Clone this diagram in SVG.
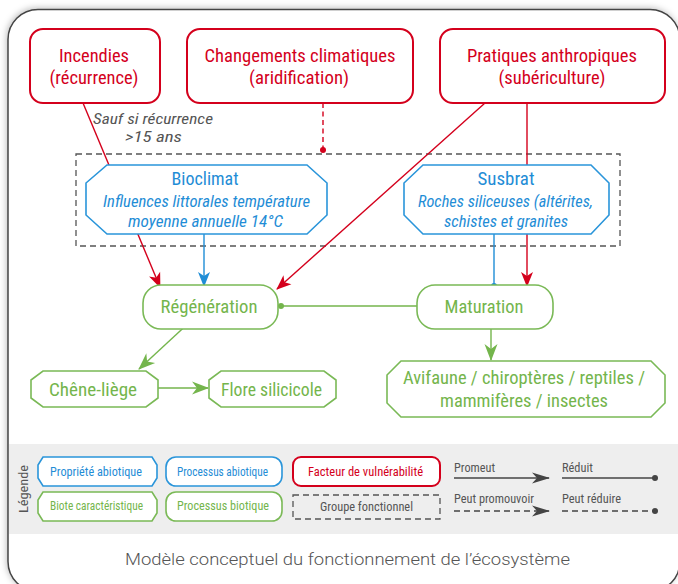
<svg xmlns="http://www.w3.org/2000/svg" width="678" height="584" viewBox="0 0 678 584">
<style>
.t{font-family:"Liberation Sans Narrow","Roboto Condensed","Arial Narrow",Roboto,sans-serif;text-anchor:middle}
.red{fill:#d4001c}.blue{fill:#1f8dd6}.green{fill:#74b54c}.grey{fill:#555}
.big{font-size:19px}.mid{font-size:16px;font-style:italic}.sm{font-size:13px}
.note{font-size:15px;font-style:italic}
.fac{fill:#fff;stroke:#d4001c;stroke-width:2}
.abio{fill:#fff;stroke:#2a95da;stroke-width:1.6}
.bio{fill:#fff;stroke:#7ab956;stroke-width:1.6}
.ln{fill:none;stroke-width:1.4}
</style>
<defs>
<filter id="sh" x="-5%" y="-5%" width="110%" height="110%"><feDropShadow dx="-1" dy="-1" stdDeviation="3" flood-color="#000" flood-opacity="0.25"/></filter>
<marker id="ar" markerUnits="userSpaceOnUse" markerWidth="20" markerHeight="20" refX="0" refY="0" orient="auto" overflow="visible"><path d="M1,0 L-14,-6 L-10,0 L-14,6 Z" fill="#d4001c"/></marker>
<marker id="ab" markerUnits="userSpaceOnUse" markerWidth="20" markerHeight="20" refX="0" refY="0" orient="auto" overflow="visible"><path d="M1,0 L-14,-6 L-10,0 L-14,6 Z" fill="#1f8dd6"/></marker>
<marker id="ag" markerUnits="userSpaceOnUse" markerWidth="20" markerHeight="20" refX="0" refY="0" orient="auto" overflow="visible"><path d="M1,0 L-16,-6.5 L-11,0 L-16,6.5 Z" fill="#74b54c"/></marker>
<marker id="ak" markerUnits="userSpaceOnUse" markerWidth="20" markerHeight="20" refX="0" refY="0" orient="auto" overflow="visible"><path d="M1,0 L-17,-5.5 L-12,0 L-17,5.5 Z" fill="#444"/></marker>
<marker id="dr" markerUnits="userSpaceOnUse" markerWidth="8" markerHeight="8" refX="0" refY="0" overflow="visible"><circle r="3" fill="#d4001c"/></marker>
<marker id="db" markerUnits="userSpaceOnUse" markerWidth="8" markerHeight="8" refX="0" refY="0" overflow="visible"><circle r="3" fill="#1f8dd6"/></marker>
<marker id="dg" markerUnits="userSpaceOnUse" markerWidth="8" markerHeight="8" refX="0" refY="0" overflow="visible"><circle r="3" fill="#74b54c"/></marker>
<marker id="dk" markerUnits="userSpaceOnUse" markerWidth="8" markerHeight="8" refX="0" refY="0" overflow="visible"><circle r="3" fill="#444"/></marker>
</defs>
<rect width="678" height="584" fill="#fff"/>
<rect x="8" y="9.5" width="672" height="582" rx="30" fill="#fff" stroke="#444" stroke-width="1.5" filter="url(#sh)"/>
<rect x="9" y="444" width="669" height="90" fill="#eeeeee"/>

<g id="group-fonctionnel">
<rect x="76" y="154" width="544" height="92" fill="none" stroke="#555" stroke-width="1.3" stroke-dasharray="6,4"/>
</g>

<g id="connectors">
<line class="ln" x1="83" y1="103" x2="160" y2="287" stroke="#d4001c" marker-end="url(#ar)"/>
<line class="ln" x1="485" y1="103" x2="277" y2="289" stroke="#d4001c" marker-end="url(#ar)"/>
<line class="ln" x1="527" y1="103" x2="527" y2="286" stroke="#d4001c" marker-end="url(#ar)"/>
<line class="ln" x1="323" y1="103" x2="323" y2="150" stroke="#d4001c" stroke-dasharray="5,3.5" marker-end="url(#dr)"/>
<line class="ln" x1="204" y1="234" x2="204" y2="286" stroke="#1f8dd6" marker-end="url(#ab)"/>
<line class="ln" x1="494" y1="234" x2="494" y2="286" stroke="#1f8dd6" marker-end="url(#db)"/>
<line class="ln" x1="417" y1="306" x2="281" y2="306" stroke="#74b54c" marker-end="url(#dg)"/>
<line class="ln" x1="193" y1="319" x2="139" y2="369" stroke="#74b54c" marker-end="url(#ag)"/>
<line class="ln" x1="158" y1="388" x2="208" y2="388" stroke="#74b54c" marker-end="url(#ag)"/>
<line class="ln" x1="491" y1="329" x2="491" y2="360" stroke="#74b54c" marker-end="url(#ag)"/>
</g>

<g id="incendies">
<rect class="fac" x="30" y="29" width="130" height="74" rx="13"/>
<text class="t big red" x="94" y="62" textLength="70" lengthAdjust="spacingAndGlyphs">Incendies</text>
<text class="t big red" x="94" y="84" textLength="89" lengthAdjust="spacingAndGlyphs">(récurrence)</text>
</g>
<g id="changements">
<rect class="fac" x="187" y="29" width="226" height="74" rx="13"/>
<text class="t big red" x="300" y="62" textLength="191" lengthAdjust="spacingAndGlyphs">Changements climatiques</text>
<text class="t big red" x="299" y="84" textLength="100" lengthAdjust="spacingAndGlyphs">(aridification)</text>
</g>
<g id="pratiques">
<rect class="fac" x="440" y="29" width="225" height="74" rx="13"/>
<text class="t big red" x="552" y="62" textLength="170" lengthAdjust="spacingAndGlyphs">Pratiques anthropiques</text>
<text class="t big red" x="552" y="84" textLength="107" lengthAdjust="spacingAndGlyphs">(subériculture)</text>
</g>
<g id="sauf">
<text class="t grey note" x="153" y="124" textLength="120" lengthAdjust="spacingAndGlyphs">Sauf si récurrence</text>
<text class="t grey note" x="153.5" y="142" textLength="57" lengthAdjust="spacingAndGlyphs">&gt;15 ans</text>
</g>

<g id="bioclimat">
<polygon class="abio" points="107,165 307,165 327,183 327,215 307,234 107,234 86,215 86,183"/>
<text class="t big blue" x="205" y="185" textLength="67" lengthAdjust="spacingAndGlyphs">Bioclimat</text>
<text class="t mid blue" x="206.5" y="207" textLength="207" lengthAdjust="spacingAndGlyphs">Influences littorales température</text>
<text class="t mid blue" x="205.5" y="227" textLength="155" lengthAdjust="spacingAndGlyphs">moyenne annuelle 14°C</text>
</g>
<g id="susbrat">
<polygon class="abio" points="423,165 591,165 609,183 609,215 591,234 423,234 404,215 404,183"/>
<text class="t big blue" x="506" y="185" textLength="57" lengthAdjust="spacingAndGlyphs">Susbrat</text>
<text class="t mid blue" x="505.5" y="207" textLength="175" lengthAdjust="spacingAndGlyphs">Roches siliceuses (altérites,</text>
<text class="t mid blue" x="506" y="227" textLength="124" lengthAdjust="spacingAndGlyphs">schistes et granites</text>
</g>

<g id="regeneration">
<rect class="bio" x="143" y="285" width="135" height="44" rx="18"/>
<text class="t big green" x="209" y="313" textLength="97" lengthAdjust="spacingAndGlyphs">Régénération</text>
</g>
<g id="maturation">
<rect class="bio" x="417" y="285" width="136" height="44" rx="18"/>
<text class="t big green" x="484" y="313" textLength="79" lengthAdjust="spacingAndGlyphs">Maturation</text>
</g>
<g id="chene-liege">
<polygon class="bio" points="43,371 146,371 158,380 158,398 146,407 43,407 31,398 31,380"/>
<text class="t big green" x="93" y="396" textLength="88" lengthAdjust="spacingAndGlyphs">Chêne-liège</text>
</g>
<g id="flore">
<polygon class="bio" points="221,371 324,371 336,380 336,398 324,407 221,407 209,398 209,380"/>
<text class="t big green" x="271.5" y="396" textLength="101" lengthAdjust="spacingAndGlyphs">Flore silicicole</text>
</g>
<g id="avifaune">
<polygon class="bio" points="401,361 651,361 665,375 665,403 651,417 401,417 387,403 387,375"/>
<text class="t big green" x="524" y="384" textLength="242" lengthAdjust="spacingAndGlyphs">Avifaune / chiroptères / reptiles /</text>
<text class="t big green" x="524" y="407" textLength="168" lengthAdjust="spacingAndGlyphs">mammifères / insectes</text>
</g>

<g id="legende">
<text class="t sm grey" transform="translate(28,489) rotate(-90)" textLength="48" lengthAdjust="spacingAndGlyphs">Légende</text>
<polygon class="abio" points="43,457 152,457 157,465 157,478 152,486 43,486 38,478 38,465" stroke-width="1.3"/>
<text class="t sm blue" x="96" y="476" textLength="92" lengthAdjust="spacingAndGlyphs">Propriété abiotique</text>
<rect class="abio" x="166" y="457" width="116" height="29" rx="10" stroke-width="1.3"/>
<text class="t sm blue" x="222.5" y="476" textLength="91" lengthAdjust="spacingAndGlyphs">Processus abiotique</text>
<polygon class="bio" points="43,492 152,492 157,500 157,513 152,521 43,521 38,513 38,500" stroke-width="1.3"/>
<text class="t sm green" x="96.5" y="510" textLength="93" lengthAdjust="spacingAndGlyphs">Biote caractéristique</text>
<rect class="bio" x="166" y="492" width="116" height="29" rx="10" stroke-width="1.3"/>
<text class="t sm green" x="223" y="510" textLength="92" lengthAdjust="spacingAndGlyphs">Processus biotique</text>
<rect class="fac" x="293" y="457" width="147" height="29" rx="8"/>
<text class="t sm red" x="365.5" y="476" textLength="115" lengthAdjust="spacingAndGlyphs">Facteur de vulnérabilité</text>
<rect x="293" y="495" width="147" height="24" fill="none" stroke="#555" stroke-width="1.3" stroke-dasharray="6,4"/>
<text class="t sm grey" x="366.5" y="511" textLength="93" lengthAdjust="spacingAndGlyphs">Groupe fonctionnel</text>
<text class="t sm grey" x="474.5" y="472" textLength="41" lengthAdjust="spacingAndGlyphs">Promeut</text>
<line class="ln" x1="454" y1="478" x2="549" y2="478" stroke="#444" marker-end="url(#ak)"/>
<text class="t sm grey" x="577.5" y="472" textLength="31" lengthAdjust="spacingAndGlyphs">Réduit</text>
<line class="ln" x1="562" y1="478" x2="655" y2="478" stroke="#444" marker-end="url(#dk)"/>
<text class="t sm grey" x="494" y="503" textLength="80" lengthAdjust="spacingAndGlyphs">Peut promouvoir</text>
<line class="ln" x1="454" y1="511" x2="549" y2="511" stroke="#444" stroke-dasharray="6,4" marker-end="url(#ak)"/>
<text class="t sm grey" x="591.5" y="503" textLength="59" lengthAdjust="spacingAndGlyphs">Peut réduire</text>
<line class="ln" x1="562" y1="511" x2="655" y2="511" stroke="#444" stroke-dasharray="6,4" marker-end="url(#dk)"/>
</g>

<text x="347.5" y="565" font-family="Roboto,'Liberation Sans',Arial,sans-serif" font-weight="300" font-size="17" fill="#555" text-anchor="middle" textLength="445" lengthAdjust="spacingAndGlyphs">Modèle conceptuel du fonctionnement de l’écosystème</text>
</svg>
